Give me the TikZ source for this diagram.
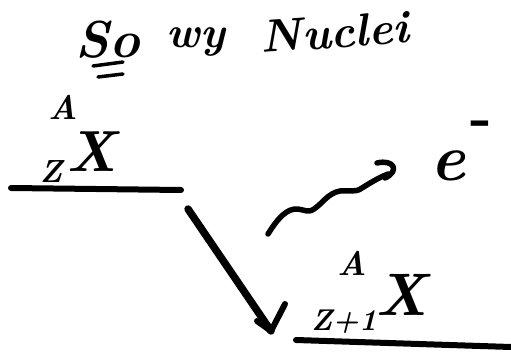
\documentclass[tikz,border=0pt]{standalone}
\usetikzlibrary{arrows.meta}
\begin{document}
\begin{tikzpicture}[x=1pt,y=-1pt,
  ink/.style={line width=6pt, line cap=round, line join=round},
  thin ink/.style={line width=3.5pt, line cap=round},
  lbl/.style={inner sep=0pt, anchor=center},
]
\useasboundingbox (0,0) rectangle (511,353);
% title
\node[lbl, font=\fontsize{52}{52}\selectfont\itshape\bfseries] (so) at (108,40) {So};
\node[lbl, font=\fontsize{44}{44}\selectfont\itshape\bfseries] (of) at (196,42) {wy};
\node[lbl, font=\fontsize{46}{46}\selectfont\itshape\bfseries, rotate=4] (nuclei) at (335,32) {Nuclei};
\draw[thin ink] (93,66) -- (123,62);
\draw[thin ink] (98,77) -- (123,74);
% parent nucleus
\node[lbl, font=\fontsize{34}{34}\selectfont\itshape\bfseries] (A1) at (63,107) {A};
\node[lbl, font=\fontsize{32}{32}\selectfont\itshape\bfseries] (Z1) at (51,172) {Z};
\node[lbl, font=\fontsize{58}{58}\selectfont\itshape\bfseries] (X1) at (92,152) {X};
\coordinate (l1a) at (11,188);
\coordinate (l1b) at (181,190);
\draw[ink] (l1a) -- (l1b);
% daughter nucleus
\node[lbl, font=\fontsize{34}{34}\selectfont\itshape\bfseries] (A2) at (352,263) {A};
\node[lbl, font=\fontsize{30}{30}\selectfont\itshape\bfseries] (Z2) at (344,322) {Z+1};
\node[lbl, font=\fontsize{60}{60}\selectfont\itshape\bfseries] (X2) at (401,295) {X};
\coordinate (l2a) at (296,340);
\coordinate (l2b) at (511,347);
\draw[ink] (l2a) -- (l2b);
% decay arrow
\coordinate (d1) at (188,209);
\coordinate (d2) at (271,331);
\draw[ink, line width=7.5pt] (d1) -- (d2);
\draw[ink] (257,321) -- (d2) -- (285,304);
% electron
\node[lbl, font=\fontsize{66}{66}\selectfont\itshape\bfseries] (e) at (448,166) {e};
\node[lbl, font=\fontsize{58}{58}\selectfont\bfseries] (minus) at (481,129) {-};
\coordinate (w1) at (268,234);
\coordinate (w2) at (388,174);
\draw[ink, line width=5.5pt] (w1) .. controls (278,218) and (287,208) .. (298,209)
  .. controls (305,210) and (308,213) .. (314,209)
  .. controls (322,204) and (328,193) .. (340,191)
  .. controls (350,190) and (355,193) .. (362,188)
  .. controls (370,183) and (378,178) .. (w2);
\draw[ink, line width=5.5pt] (377,163) .. controls (394,159) and (400,171) .. (385,178);
\end{tikzpicture}
\end{document}
